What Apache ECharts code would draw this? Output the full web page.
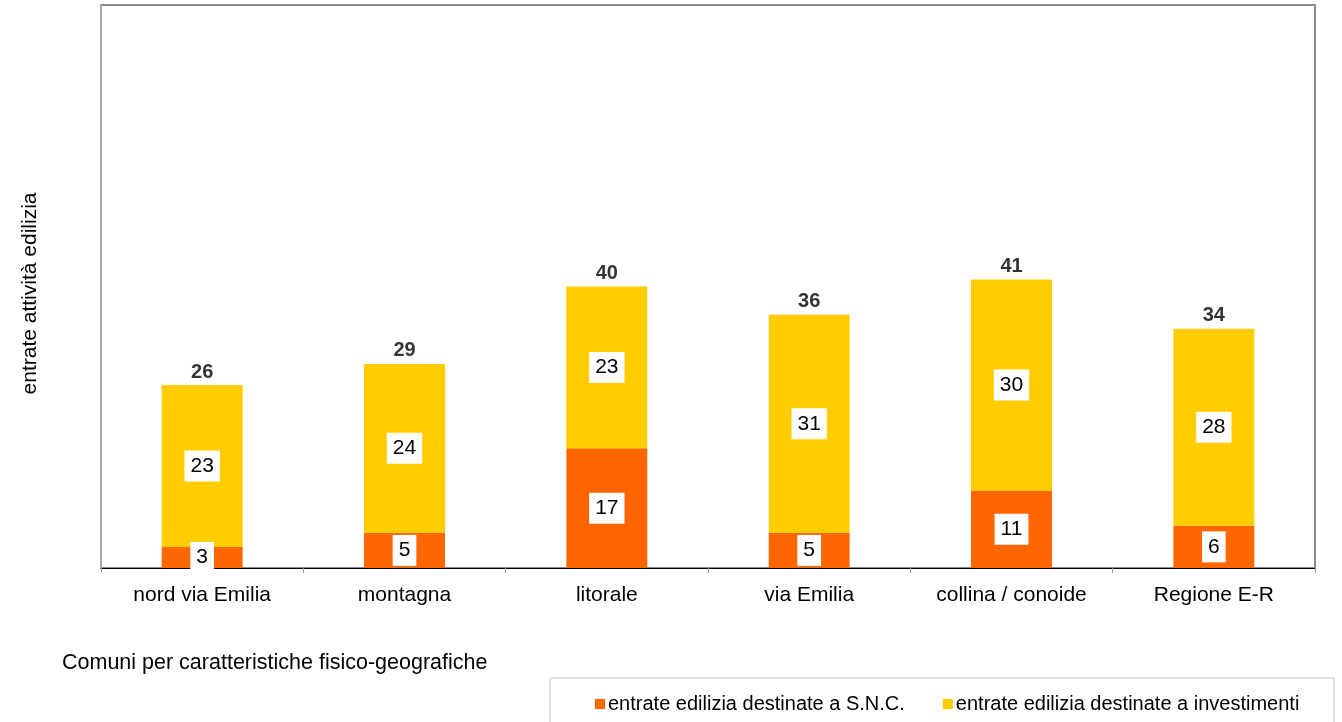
<!DOCTYPE html>
<html>
<head>
<meta charset="utf-8">
<script src="https://cdn.jsdelivr.net/npm/echarts@6/dist/echarts.min.js"></script>
<style>
  html, body { margin: 0; padding: 0; background: #fff; }
  #chart { width: 1342px; height: 722px; }
</style>
</head>
<body>
<div id="chart"></div>
<script>
// Comuni grouped by physical-geographic type
const categories = ['nord via Emilia', 'montagna', 'litorale', 'via Emilia', 'collina / conoide', 'Regione E-R'];
// building revenue for S.N.C. (spesa non corrente)
const snc = [3, 5, 17, 5, 11, 6];
// building revenue for investments
const investimenti = [23, 24, 23, 31, 30, 28];
// totals printed above each column
const totali = [26, 29, 40, 36, 41, 34];

const seriesNames = ['entrate edilizia destinate a S.N.C.', 'entrate edilizia destinate a investimenti'];
const FONT = '"Liberation Sans", Arial, sans-serif';

const insideLabel = {
  show: true,
  position: 'inside',
  color: '#000',
  fontFamily: FONT,
  fontSize: 21,
  lineHeight: 21,
  backgroundColor: '#fff',
  padding: [6, 6, 4, 6]
};

const chart = echarts.init(document.getElementById('chart'));
chart.setOption({
  animation: false,
  textStyle: { fontFamily: FONT },
  grid: {
    left: 101, right: 27, top: 5, bottom: 154,
    show: true, borderColor: '#8a8a8a', borderWidth: 2, backgroundColor: 'transparent'
  },
  title: {
    text: 'Comuni per caratteristiche fisico-geografiche',
    left: 57, top: 647,
    textStyle: { fontFamily: FONT, fontSize: 21.5, fontWeight: 'normal', color: '#000' }
  },
  graphic: [{
    type: 'rect',
    shape: { x: 550, y: 678, width: 784, height: 60 },
    style: { fill: '#fff', stroke: '#c8c8c8', lineWidth: 1 },
    z: -1
  }],
  legend: {
    data: seriesNames,
    left: 590, top: 689,
    itemWidth: 10, itemHeight: 10, itemGap: 38,
    icon: 'rect',
    textStyle: { fontFamily: FONT, fontSize: 20, color: '#000', padding: [0, 0, 0, -2] }
  },
  xAxis: {
    type: 'category',
    data: categories,
    axisLine: { lineStyle: { color: '#000', width: 1 } },
    axisTick: { show: true, length: 5, lineStyle: { color: '#999' } },
    axisLabel: { fontFamily: FONT, fontSize: 21, color: '#000', margin: 17 }
  },
  yAxis: {
    type: 'value',
    min: 0, max: 80,
    name: 'entrate attività edilizia',
    nameLocation: 'middle',
    nameGap: 60,
    nameTextStyle: { fontFamily: FONT, fontSize: 21, color: '#000', padding: [0, 14, 0, 0] },
    axisLine: { show: true, lineStyle: { color: '#a8a8a8', width: 2 } },
    axisTick: { show: false },
    axisLabel: { show: false },
    splitLine: { show: false }
  },
  series: [
    {
      name: seriesNames[0], type: 'bar', stack: 'tot',
      data: snc, barWidth: '40%',
      itemStyle: { color: '#FF6600' },
      label: insideLabel
    },
    {
      name: seriesNames[1], type: 'bar', stack: 'tot',
      data: investimenti, barWidth: '40%',
      itemStyle: { color: '#FFCC00' },
      label: insideLabel
    },
    {
      name: 'totale', type: 'scatter',
      data: totali, symbolSize: 0.01,
      label: {
        show: true, position: 'top', distance: 3,
        fontFamily: FONT, fontSize: 20, fontWeight: 'bold', color: '#000'
      },
      z: 5
    }
  ]
});
</script>
</body>
</html>
